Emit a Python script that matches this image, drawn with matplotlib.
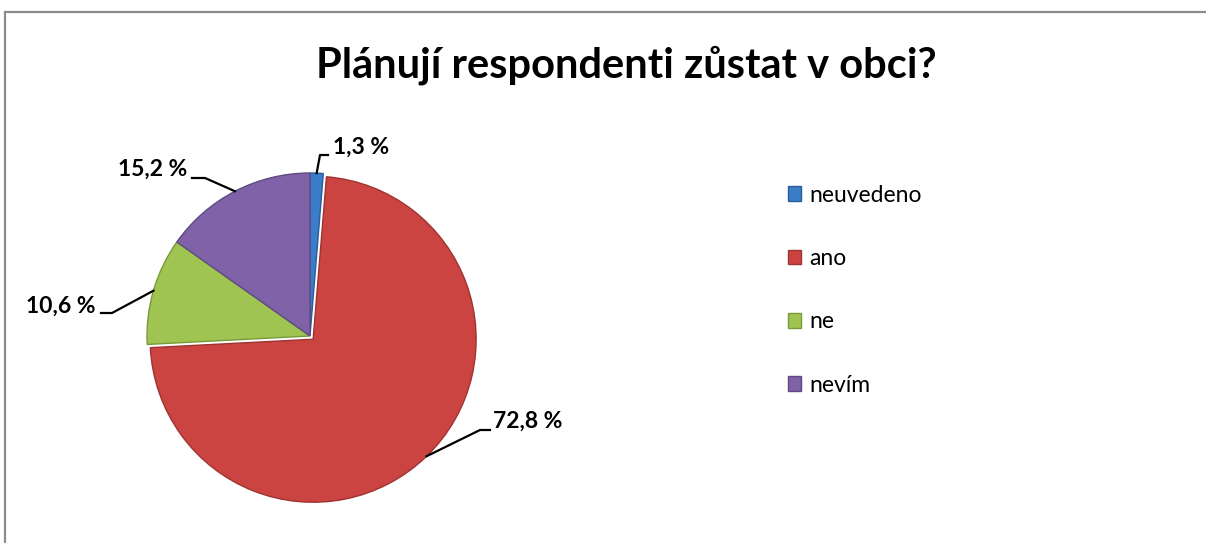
import numpy as np
import matplotlib.pyplot as plt
from matplotlib.patches import Rectangle
from matplotlib.lines import Line2D

title = "Plánují respondenti zůstat v obci?"
categories = ["neuvedeno", "ano", "ne", "nevím"]
shares = [1.3, 72.8, 10.6, 15.2]
colors = ["#3b7dc9", "#cc4442", "#a0c451", "#7f62a8"]
edge_colors = ["#2a5d99", "#9e3331", "#7a9a3a", "#5f4a82"]

W, H = 1206, 543
plt.rcParams['font.family'] = ['Lato', 'DejaVu Sans']

fig = plt.figure(figsize=(W / 100, H / 100), dpi=100)
ax = fig.add_axes([0, 0, 1, 1])

wedges, _ = ax.pie(shares, colors=colors, startangle=90, counterclock=False,
                   center=(310, H - 336), radius=163, explode=[0, 4.5, 0, 0],
                   wedgeprops=dict(linewidth=1))
for w, ec in zip(wedges, edge_colors):
    w.set_edgecolor(ec)

ax.set_xlim(0, W)
ax.set_ylim(0, H)
ax.set_aspect('equal')
ax.axis('off')

# leader line layout in pixel coords: elbow, end of line, text anchor, alignment
label_layout = [
    ((320, 155), (328, 155), (333, 147), 'left'),
    ((480, 430), (490, 430), (493, 421), 'left'),
    ((112, 313), (101, 313), (95, 306), 'right'),
    ((205, 178), (192, 178), (187, 169), 'right'),
]

for w, v, (elbow, end, txt, ha) in zip(wedges, shares, label_layout):
    mid = np.deg2rad((w.theta1 + w.theta2) / 2)
    cx, cy = w.center
    ex = cx + w.r * np.cos(mid)
    ey = cy + w.r * np.sin(mid)
    ax.add_line(Line2D([ex, elbow[0], end[0]], [ey, H - elbow[1], H - end[1]],
                       color="black", lw=1.6))
    label = f"{v:.1f} %".replace(".", ",")
    ax.text(txt[0], H - txt[1], label, ha=ha, va='center', fontsize=16.5,
            weight='bold', color="black")

fig.text(626 / W, 1 - 65 / H, title, ha='center', va='center',
         fontsize=30, weight='bold')

fig.legend(wedges, categories, loc='upper left',
           bbox_to_anchor=(767 / W, 1 - 164 / H), frameon=False,
           fontsize=16.5, handlelength=0.6, handleheight=0.6,
           labelspacing=1.85, handletextpad=0.35)

fig.add_artist(Rectangle((5 / W, -0.1), 1.2, (H - 12) / H + 0.1,
                         transform=fig.transFigure, fill=False,
                         edgecolor="#8c8c8c", lw=1.6))

fig.savefig("out.png", dpi=100)
